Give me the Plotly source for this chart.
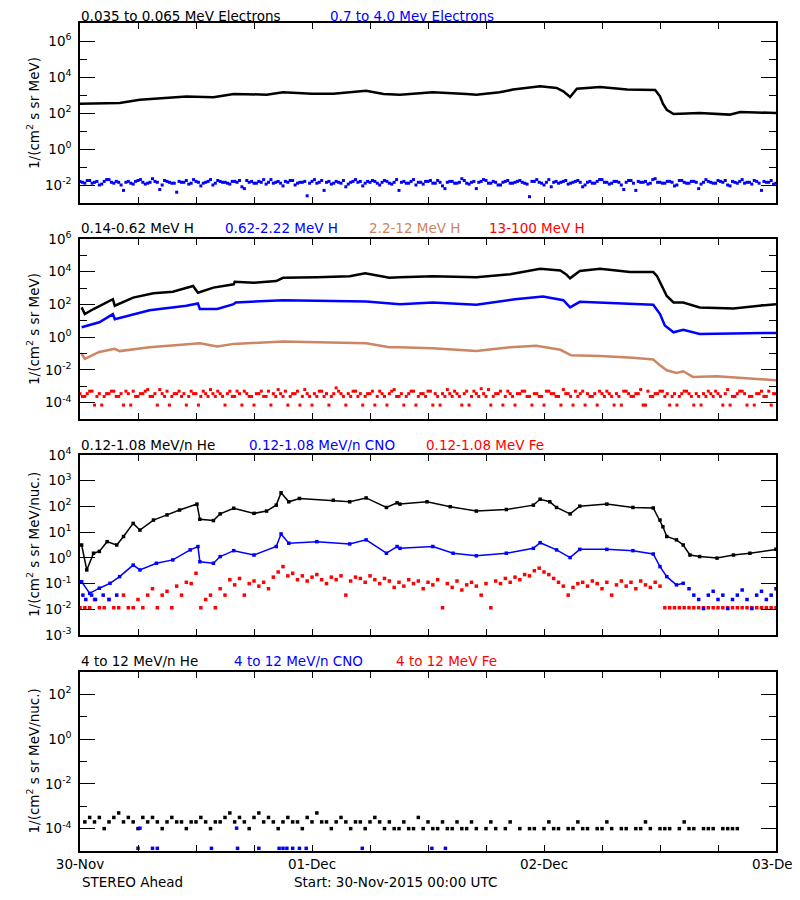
import pandas as pd
import plotly.graph_objects as go

BASE = pd.Timestamp("2015-11-30 00:00")

# ---------------- Panel 1 : electrons (log10 values) ----------------
e_lo_hours = [0, 4.1, 6.2, 8.3, 11, 13.8, 15.9, 19.3, 21, 24, 26.2, 29.6, 31.4, 33.1, 36.5, 40, 41,
              43.4, 44.8, 47.6, 49.3, 50, 50.7, 51.4, 53.8, 56.6, 59.5, 60, 60.3, 60.7, 61.4, 64.1,
              67.2, 68.3, 72]
e_lo_log = [2.52, 2.56, 2.74, 2.82, 2.92, 2.87, 3.06, 3.02, 3.15, 3.07, 3.07, 3.24, 3.05, 3.02, 3.15,
            3.05, 3.02, 3.15, 3.30, 3.48, 3.39, 3.2, 2.89, 3.35, 3.44, 3.30, 3.28, 2.93, 2.52, 2.18,
            1.94, 2.0, 1.91, 2.06, 2.0]
# 0.7-4.0 MeV electrons, two interleaved half-hour sample sets
e_hi_log = [-1.8, -1.9, -1.75, -1.85, -2.0, -1.8, -1.7, -1.9, -1.85, -2.3,
            -1.8, -1.95, -1.75, -1.85, -1.9, -1.65, -1.85, -2.0, -1.8, -1.9,
            -2.4, -1.85, -1.75, -1.9, -1.8, -2.05, -1.85, -1.7, -1.9, -1.8,
            -1.85, -1.95, -1.8, -1.75, -2.2, -1.85, -1.9, -1.8, -1.7, -1.85,
            -1.9, -1.8, -2.05, -1.85, -1.75, -1.9, -1.85, -2.6, -1.8, -1.9,
            -1.75, -1.85, -1.95, -1.8, -1.9, -2.1, -1.85, -1.7, -1.8, -1.9,
            -1.85, -1.8, -2.0, -1.75, -1.9, -1.85, -2.3, -1.8, -1.9, -1.7,
            -1.85, -1.95, -1.8, -1.9, -1.75, -2.05, -1.85, -1.8, -1.9, -1.65,
            -1.9, -1.85, -2.2, -1.8, -1.75, -1.9, -1.85, -2.0, -1.8, -1.9,
            -1.85, -1.75, -1.9, -2.65, -1.8, -1.85, -2.0, -1.7, -1.85, -1.9,
            -1.8, -1.95, -1.85, -1.75, -2.1, -1.85, -1.9, -1.8, -1.7, -1.85,
            -1.9, -1.8, -2.0, -1.85, -1.75, -2.3, -1.85, -1.8, -1.9, -1.65,
            -1.85, -1.9, -1.8, -2.05, -1.75, -1.85, -1.9, -1.8, -2.2, -1.85,
            -1.8, -1.9, -1.75, -1.85, -2.0, -1.8, -1.9, -1.7, -1.85, -1.95,
            -1.8, -2.3, -1.85, -1.75, -1.9]
e_hi_log_b = [-1.85, -1.75, -1.9, -1.8, -1.95, -1.7, -1.85, -1.8, -2.0, -1.85,
              -1.9, -1.8, -1.7, -1.95, -1.85, -1.8, -2.25, -1.75, -1.85, -1.9,
              -1.8, -1.85, -1.95, -1.7, -1.85, -1.9, -1.8, -2.0, -1.75, -1.85,
              -1.9, -1.8, -1.85, -2.1, -1.75, -1.8, -1.9, -1.85, -1.95, -1.7,
              -1.85, -1.9, -1.8, -1.75, -2.0, -1.85, -1.8, -1.9, -1.7, -1.85,
              -2.3, -1.8, -1.9, -1.85, -1.75, -1.95, -1.8, -1.85, -2.05, -1.8,
              -1.75, -1.9, -1.85, -1.8, -1.95, -1.7, -1.85, -1.9, -1.8, -2.0,
              -1.85, -1.8, -1.75, -1.9, -1.85, -2.2, -1.8, -1.9, -1.85, -1.75,
              -1.95, -1.8, -1.85, -1.7, -1.9, -1.8, -2.0, -1.85, -1.75, -1.9,
              -1.8, -1.85, -1.95, -1.8, -1.7, -1.9, -1.85, -2.1, -1.8, -1.85,
              -1.75, -1.9, -1.8, -1.85, -2.0, -1.8, -1.9, -1.7, -1.85, -1.95,
              -1.8, -1.85, -2.25, -1.75, -1.9, -1.8, -1.85, -1.95, -1.7, -1.85,
              -1.9, -1.8, -1.85, -2.0, -1.75, -1.9, -1.8, -1.85, -1.95, -1.7,
              -1.85, -1.9, -1.8, -1.75, -2.05, -1.85, -1.8, -1.9, -1.85, -1.75,
              -1.9, -1.8, -1.85, -1.95]

# ---------------- Panel 2 : protons ----------------
h1_hours = [0.17, 0.5, 1.4, 3.4, 3.6, 5.5, 7.6, 9.6, 11.7, 12.2, 13.8, 15.9, 16, 18, 20.3, 21, 24.5,
            27.9, 29.5, 32, 33.1, 36.5, 41, 44.5, 47.6, 49.7, 50.3, 50.7, 51.7, 53.8, 56.9, 59.3,
            59.7, 60.2, 60.7, 61.4, 62.4, 64.1, 67.6, 72]
h1_log = [1.82, 1.41, 1.72, 2.32, 1.92, 2.42, 2.68, 2.78, 3.13, 2.72, 3.03, 3.23, 3.39, 3.33, 3.43,
          3.63, 3.67, 3.73, 3.90, 3.63, 3.67, 3.73, 3.67, 3.84, 4.18, 4.08, 3.84, 3.60, 4.04, 4.18,
          3.98, 3.98, 3.73, 3.13, 2.52, 2.12, 2.12, 1.82, 1.76, 2.02]
h2_hours = [0.17, 2, 3.4, 3.6, 7.2, 11, 12.2, 12.4, 14.2, 15.9, 16.1, 21, 29.6, 32, 33.1, 36.5, 41,
            45, 47.9, 50, 50.7, 51.7, 57.2, 59.3, 60, 60.5, 61.4, 62.4, 64.1, 72]
h2_log = [0.61, 0.91, 1.41, 1.1, 1.65, 1.92, 2.06, 1.72, 1.72, 2.02, 2.12, 2.26, 2.18, 2.06, 2.02,
          2.12, 1.98, 2.32, 2.48, 2.26, 1.82, 2.16, 2.02, 1.98, 1.41, 0.71, 0.30, 0.45, 0.20, 0.26]
h3_hours = [0.17, 0.5, 2, 3.6, 4.1, 7.2, 12.4, 14.2, 15.9, 21, 29.6, 32, 33, 36.5, 41, 44.5, 47.2,
            49.7, 50.8, 53.8, 57.2, 59.3, 60, 60.7, 61.7, 62.4, 63.4, 65.9, 69.3, 72]
h3_log = [-1.01, -1.32, -0.9, -0.71, -0.85, -0.61, -0.37, -0.57, -0.41, -0.27, -0.37, -0.61, -0.61,
          -0.67, -0.85, -0.61, -0.53, -0.77, -1.11, -1.15, -1.25, -1.36, -1.72, -2.02, -2.18, -2.08,
          -2.43, -2.39, -2.53, -2.63]
# 13-100 MeV H, two interleaved half-hour sample sets
h4_log = [-3.45, -3.62, -3.3, -4.15, -3.45, -3.62, -3.45, -3.3, -3.62, -4.15,
          -3.45, -3.3, -3.62, -3.45, -3.2, -3.62, -4.15, -3.45, -3.3, -3.62,
          -3.45, -3.62, -4.15, -3.3, -3.45, -3.62, -3.45, -3.2, -3.62, -3.45,
          -4.15, -3.3, -3.62, -3.45, -3.3, -3.62, -4.15, -3.45, -3.62, -3.3,
          -3.45, -3.2, -3.62, -4.15, -3.45, -3.3, -3.62, -3.45, -4.15, -3.62,
          -3.3, -3.45, -3.62, -3.1, -3.45, -4.15, -3.62, -3.3, -3.45, -3.62,
          -3.45, -4.15, -3.3, -3.62, -3.45, -3.2, -3.62, -4.15, -3.45, -3.3,
          -3.62, -3.45, -3.3, -4.15, -3.62, -3.45, -3.2, -3.62, -3.45, -4.15,
          -3.3, -3.62, -3.45, -3.15, -3.62, -4.15, -3.45, -3.3, -3.62, -3.45,
          -4.15, -3.45, -3.3, -3.62, -3.45, -3.62, -4.15, -3.3, -3.45, -3.62,
          -3.2, -3.45, -4.15, -3.62, -3.3, -3.45, -3.62, -4.15, -3.45, -3.3,
          -3.62, -3.45, -4.15, -3.3, -3.62, -3.45, -3.2, -4.15, -3.62, -3.45,
          -3.3, -3.62, -4.15, -3.45, -3.62, -3.3, -3.45, -4.15, -3.62, -3.45,
          -3.3, -3.62, -3.45, -4.15, -3.2, -3.62, -3.45, -3.3, -4.15, -3.62,
          -3.45, -3.3, -3.62, -4.15, -3.45]
h4_log_b = [-3.62, -3.45, -3.3, -3.62, -4.15, -3.45, -3.3, -3.62, -3.45, -3.3,
            -4.15, -3.62, -3.45, -3.3, -3.62, -3.45, -3.2, -3.62, -4.15, -3.45,
            -3.3, -3.45, -3.62, -3.45, -4.15, -3.3, -3.62, -3.45, -3.3, -3.62,
            -3.45, -3.62, -3.3, -4.15, -3.45, -3.62, -3.45, -3.3, -3.62, -4.15,
            -3.62, -3.45, -3.3, -3.62, -3.45, -4.15, -3.2, -3.62, -3.45, -3.3,
            -3.62, -4.15, -3.45, -3.3, -3.62, -3.45, -3.3, -3.62, -4.15, -3.45,
            -3.3, -3.62, -3.45, -4.15, -3.3, -3.62, -3.45, -3.62, -3.3, -4.15,
            -3.45, -3.62, -3.3, -3.45, -4.15, -3.62, -3.45, -3.3, -3.62, -3.45,
            -4.15, -3.3, -3.62, -3.45, -3.2, -3.62, -3.45, -4.15, -3.3, -3.62,
            -3.45, -3.3, -3.62, -4.15, -3.45, -3.62, -3.3, -3.45, -3.62, -4.15,
            -3.45, -3.62, -3.3, -3.45, -4.15, -3.62, -3.45, -3.3, -3.62, -3.45,
            -4.15, -3.62, -3.3, -3.45, -3.62, -3.45, -4.15, -3.3, -3.62, -3.45,
            -3.3, -3.45, -3.62, -4.15, -3.45, -3.3, -3.62, -3.45, -4.15, -3.62,
            -3.45, -3.3, -3.62, -3.45, -4.15, -3.62, -3.3, -3.45, -3.62, -4.15,
            -3.45, -3.62, -3.3, -3.45]

# ---------------- Panel 3 : low-energy heavy ions ----------------
he_hours = [0.17, 0.7, 1.4, 2, 2.8, 3.8, 4.5, 5.5, 6.2, 7.6, 9, 10.3, 12.1, 12.4, 13.8, 14.5, 15.9,
            18, 19.3, 20.3, 20.8, 21.6, 22.7, 26.2, 27.9, 29.6, 31.7, 32.8, 33.1, 35.9, 38.3, 41,
            44.1, 46.9, 47.6, 48.6, 49.3, 50.7, 51.7, 54.5, 57.2, 59.3, 60, 60.3, 60.7, 61.7, 62.4,
            63.1, 64.1, 65.9, 67.6, 69.3, 72]
he_log = [0.50, -0.47, 0.18, 0.25, 0.63, 0.50, 0.83, 1.34, 1.08, 1.47, 1.67, 1.86, 2.09, 1.5, 1.45,
          1.71, 1.93, 1.73, 1.82, 2.05, 2.53, 2.18, 2.31, 2.24, 2.18, 2.33, 1.96, 2.14, 2.09, 2.18,
          1.99, 1.82, 1.88, 2.05, 2.28, 2.18, 1.96, 1.71, 2.01, 2.09, 1.96, 1.94, 1.47, 1.21, 0.83,
          0.70, 0.50, 0.11, 0.05, -0.01, 0.11, 0.18, 0.33]
cno_hours = [0.17, 1, 2, 3.1, 4.1, 5.5, 6.2, 7.9, 9.6, 11.4, 12.2, 12.4, 13.8, 14.5, 15.9, 18, 20.3,
             20.8, 21.6, 24.5, 27.9, 29.6, 31.7, 32.8, 33.1, 36.5, 38.6, 41, 44.1, 46.9, 47.6,
             49.3, 50.7, 51.7, 54.5, 57.2, 59.3, 60, 60.7, 61.7, 62.4]
cno_log = [-0.93, -1.38, -1.18, -0.99, -0.73, -0.28, -0.47, -0.21, -0.08, 0.31, 0.44, -0.15, -0.21,
           0.05, 0.28, 0.11, 0.44, 0.93, 0.57, 0.63, 0.54, 0.70, 0.18, 0.44, 0.37, 0.44, 0.18,
           0.08, 0.18, 0.37, 0.59, 0.31, 0.01, 0.33, 0.33, 0.28, 0.15, -0.34, -0.73, -1.05, -0.99]
cno_dots_hours = [0.3, 0.6, 1.2, 1.6, 2.4, 3.0, 3.8, 63, 63.5, 64, 64.5, 65, 65.5, 66, 66.5, 67,
                  67.5, 68, 68.5, 69, 69.5, 70, 70.5, 71, 71.5, 72]
cno_dots_log = [-1.45, -1.62, -1.45, -1.62, -1.45, -1.62, -1.45, -1.2, -1.45, -1.62, -1.97, -1.45,
                -1.3, -1.62, -1.45, -1.97, -1.62, -1.45, -1.25, -1.62, -1.97, -1.45, -1.3, -1.62,
                -1.45, -1.2]
fe_log = [-1.94, -1.94, -1.94, -1.62, -1.94, -1.94, -1.62, -1.94, -1.94, -1.45,
          -1.94, -1.94, -1.62, -1.94, -1.45, -1.2, -1.94, -1.45, -1.3, -1.94,
          -1.1, -1.45, -0.95, -1.0, -0.6, -1.94, -1.62, -1.45, -1.94, -1.2,
          -1.45, -0.85, -1.05, -0.8, -1.45, -1.0, -0.9, -1.1, -0.95, -1.2,
          -0.75, -0.55, -0.34, -0.7, -0.6, -0.85, -0.7, -0.9, -0.75, -0.65,
          -0.85, -1.0, -0.75, -0.85, -0.7, -1.45, -0.9, -0.75, -0.8, -0.95,
          -0.7, -0.85, -1.0, -0.8, -0.9, -1.15, -0.95, -1.1, -0.85, -1.0,
          -0.9, -1.2, -0.95, -1.05, -0.85, -1.94, -1.0, -1.15, -0.9, -1.25,
          -1.05, -0.95, -1.1, -1.45, -1.0, -1.94, -0.9, -1.0, -0.8, -0.95,
          -0.75, -0.85, -0.65, -0.7, -0.5, -0.4, -0.55, -0.65, -0.8, -0.95,
          -1.1, -1.45, -1.15, -1.0, -0.95, -1.1, -0.9, -1.0, -1.2, -0.95,
          -1.45, -1.05, -0.9, -1.1, -0.95, -1.2, -0.9, -1.05, -1.15, -0.95,
          -1.1, -1.94, -1.94, -1.94, -1.94, -1.94, -1.94, -1.94, -1.94, -1.94,
          -1.94, -1.94, -1.94, -1.94, -1.94, -1.94, -1.94, -1.94, -1.94, -1.94,
          -1.94, -1.94, -1.94, -1.94, -1.94]

# ---------------- Panel 4 : high-energy heavy ions ----------------
he4_log = [-3.7, -3.5, -3.7, -3.5, -4.0, -3.7, -3.5, -3.3, -3.7, -3.5,
           -3.7, -4.0, -3.5, -3.7, -3.5, -3.7, -4.0, -3.7, -3.5, -3.7,
           -3.7, -4.0, -3.7, -3.7, -3.5, -3.7, -4.0, -3.7, -3.7, -3.5,
           -3.3, -3.7, -3.5, -3.7, -4.0, -3.5, -3.3, -3.7, -3.5, -3.7,
           -4.0, -3.7, -3.5, -3.7, -3.7, -4.0, -3.5, -3.7, -3.3, -3.7,
           -3.7, -4.0, -3.7, -3.5, -3.7, -4.0, -3.7, -3.7, -4.0, -3.7,
           -3.5, -3.7, -4.0, -3.7, -4.0,
           -4.0, -3.7, -4.0, -4.0, -3.5, -4.0, -3.7, -4.0, -4.0, -3.7,
           -4.0, -4.0, -3.7, -4.0, -4.0, -3.7, -4.0, None, -4.0, -3.7,
           -4.0, None, -4.0, -3.7, None, -4.0, None, -4.0, -4.0, None,
           -4.0, -3.7, -4.0, -4.0, None, -4.0, -4.0, -3.7, -4.0, -4.0,
           None, -4.0, -4.0, -3.7, -4.0, None, -4.0, -4.0, None, -4.0,
           -4.0, -3.7, -4.0, None, -4.0, -4.0, -4.0, None, -4.0, -3.7,
           -4.0, -4.0, None, -4.0, -4.0, -4.0, None, -4.0, -4.0, -4.0,
           -4.0, None, None, None, None, None, None, None, None]
cno4_hours = [6.0, 6.2, 7.5, 8.0, 13.6, 16.2, 16.3, 18.5, 20.6, 21.0, 21.4, 22.0, 22.7, 23.4, 29.2,
              36.4, 37.8]
cno4_log = [-4.88, -3.98, -4.88, -4.88, -4.88, -3.98, -4.88, -4.88, -4.88, -4.88, -4.88, -4.88,
            -4.88, -4.88, -4.88, -4.88, -4.88]

# ---------------- Labels ----------------
SIENNA = "rgb(205,133,100)"
titles = [
    [("0.035 to 0.065 MeV Electrons", "black", 80), ("0.7 to 4.0 Mev Electrons", "blue", 329)],
    [("0.14-0.62 MeV H", "black", 80), ("0.62-2.22 MeV H", "blue", 224),
     ("2.2-12 MeV H", SIENNA, 368), ("13-100 MeV H", "red", 488)],
    [("0.12-1.08 MeV/n He", "black", 80), ("0.12-1.08 MeV/n CNO", "blue", 248),
     ("0.12-1.08 MeV Fe", "red", 425)],
    [("4 to 12 MeV/n He", "black", 80), ("4 to 12 MeV/n CNO", "blue", 233),
     ("4 to 12 MeV Fe", "red", 395)],
]
ytitles = ["1/(cm<sup>2</sup> s sr MeV)", "1/(cm<sup>2</sup> s sr MeV)",
           "1/(cm<sup>2</sup> s sr MeV/nuc.)", "1/(cm<sup>2</sup> s sr MeV/nuc.)"]
day_labels = ["30-Nov", "01-Dec", "02-Dec", "03-Dec"]

# ---------------- Geometry (page pixels; page has an 8px body margin) ----------------
OFF = 8
W, H = 800 - OFF, 900 - 2 * OFF
L = 80 - OFF
R = W - (776 - OFF)
panel_px = [(23, 203), (239, 419), (455, 635), (672, 851)]
title_y_px = [16.5, 228, 445, 661]
yranges = [(-3, 7), (-5, 6), (-3, 4), (-5, 3)]
ymajor = [[6, 4, 2, 0, -2], [6, 4, 2, 0, -2, -4], [4, 3, 2, 1, 0, -1, -2, -3], [2, 0, -2, -4]]
yminor = [[5, 3, 1, -1], [5, 3, 1, -1, -3], [], [1, -1, -3]]

FONT = "DejaVu Sans"
FS = 13.5


def tx(hours):
    return [BASE + pd.Timedelta(hours=h) for h in hours]


def lin(logs):
    return [None if v is None else 10 ** v for v in logs]


def half_hours(vals, start=0.0):
    return [start + 0.5 * i for i in range(len(vals))]


fig = go.Figure()


def axes_of(panel):
    return ("x" if panel == 1 else f"x{panel}", "y" if panel == 1 else f"y{panel}")


def line(panel, hours, logs, color, width=2.5, msize=0):
    xa, ya = axes_of(panel)
    fig.add_trace(go.Scatter(x=tx(hours), y=lin(logs),
                             mode="lines+markers" if msize else "lines",
                             line=dict(color=color, width=width),
                             marker=dict(color=color, size=msize, symbol="square"),
                             xaxis=xa, yaxis=ya, showlegend=False, hoverinfo="skip"))


def dots(panel, hours, logs, color, size=3.5):
    xa, ya = axes_of(panel)
    fig.add_trace(go.Scatter(x=tx(hours), y=lin(logs), mode="markers",
                             marker=dict(color=color, size=size, symbol="square",
                                         line=dict(width=0)),
                             xaxis=xa, yaxis=ya, showlegend=False, hoverinfo="skip"))


# panel 1
line(1, e_lo_hours, e_lo_log, "black")
dots(1, half_hours(e_hi_log), e_hi_log, "blue", 3)
dots(1, half_hours(e_hi_log_b, 0.25), e_hi_log_b, "blue", 3)
# panel 2
dots(2, half_hours(h4_log), h4_log, "red", 3)
dots(2, half_hours(h4_log_b, 0.25), h4_log_b, "red", 3)
line(2, h3_hours, h3_log, SIENNA)
line(2, h2_hours, h2_log, "blue")
line(2, h1_hours, h1_log, "black")
# panel 3
dots(3, half_hours(fe_log), fe_log, "red")
dots(3, cno_dots_hours, cno_dots_log, "blue")
line(3, cno_hours, cno_log, "blue", 1.5, 3.5)
line(3, he_hours, he_log, "black", 1.5, 3.5)
# panel 4
dots(4, half_hours(he4_log, 0.5), he4_log, "black")
dots(4, cno4_hours, cno4_log, "blue")

day_ticks = [BASE + pd.Timedelta(days=d) for d in range(4)]

layout = dict(width=W, height=H, autosize=False,
              margin=dict(l=L, r=R, t=0, b=0, pad=0, autoexpand=False),
              paper_bgcolor="white", plot_bgcolor="white",
              font=dict(family=FONT, size=FS, color="black"),
              showlegend=False)

annotations = []
pw = W - L - R


def py(px_page):
    return 1 - (px_page - OFF) / H


def pxx(px_page):
    return (px_page - OFF - L) / pw


for p in range(4):
    top, bot = panel_px[p]
    sfx = "" if p == 0 else str(p + 1)
    layout["xaxis" + sfx] = dict(
        type="date", domain=[0, 1], anchor="y" + sfx,
        range=[BASE, BASE + pd.Timedelta(days=3)],
        tickmode="array", tickvals=day_ticks, ticktext=day_labels,
        showticklabels=(p == 3), ticks="inside", ticklen=6, tickwidth=1, tickcolor="black",
        ticklabeloverflow="allow",
        minor=dict(dtick=6 * 3600 * 1000, ticks="inside", ticklen=6, tickwidth=1,
                   tickcolor="black", showgrid=False),
        showline=True, linecolor="black", linewidth=1.5, mirror="ticks",
        showgrid=False, zeroline=False, automargin=False,
        tickfont=dict(family=FONT, size=FS, color="black"))
    lo, hi = yranges[p]
    ya = dict(
        type="log", domain=[py(bot), py(top)], anchor="x" + sfx, range=[lo, hi],
        tickmode="array", tickvals=[10 ** k for k in ymajor[p]],
        ticktext=[f"10<sup>{k}</sup>" for k in ymajor[p]],
        ticks="inside", ticklen=15, tickwidth=1, tickcolor="black",
        ticklabelstandoff=4, automargin=False,
        showline=True, linecolor="black", linewidth=1.5, mirror="ticks",
        showgrid=False, zeroline=False,
        tickfont=dict(family=FONT, size=FS, color="black"))
    if yminor[p]:
        ya["minor"] = dict(tickmode="array", tickvals=[10 ** k for k in yminor[p]],
                           ticks="inside", ticklen=7, tickwidth=1, tickcolor="black",
                           showgrid=False)
    layout["yaxis" + sfx] = ya
    for text, color, xpx in titles[p]:
        annotations.append(dict(text=text, xref="paper", yref="paper",
                                x=pxx(xpx), y=py(title_y_px[p]),
                                xanchor="left", yanchor="middle", showarrow=False,
                                borderpad=0,
                                font=dict(family=FONT, size=FS, color=color)))
    annotations.append(dict(text=ytitles[p], xref="paper", yref="paper",
                            x=pxx(33), y=py((top + bot) / 2),
                            xanchor="center", yanchor="middle", textangle=-90,
                            showarrow=False, font=dict(family=FONT, size=FS, color="black")))

annotations.append(dict(text="STEREO Ahead", xref="paper", yref="paper", x=pxx(80), y=py(882),
                        xanchor="left", yanchor="middle", showarrow=False,
                        font=dict(family=FONT, size=FS, color="black")))
annotations.append(dict(text="Start: 30-Nov-2015 00:00 UTC", xref="paper", yref="paper",
                        x=pxx(292), y=py(882), xanchor="left", yanchor="middle",
                        showarrow=False, font=dict(family=FONT, size=FS, color="black")))
layout["annotations"] = annotations
fig.update_layout(**layout)
fig.write_html("out.html")
